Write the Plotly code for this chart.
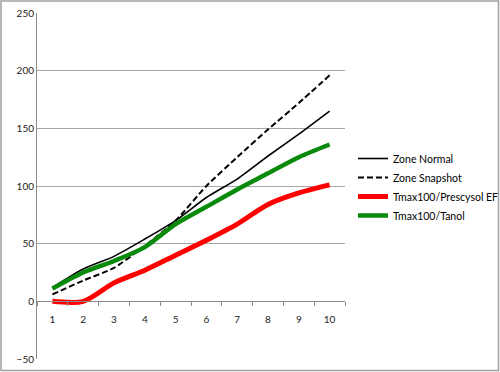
import plotly.graph_objects as go

categories = ["1", "2", "3", "4", "5", "6", "7", "8", "9", "10"]
zone_normal = [12, 28, 39, 54, 70, 90, 106, 126, 145, 165]
zone_snapshot = [6, 18, 29, 48, 70, 100, 125, 149, 172, 196]
prescysol = [0, 0, 16, 27, 40, 53, 67, 84, 94, 101]
tanol = [11, 25, 35, 47, 67, 82, 97, 111, 125, 136]
y_ticks = [-50, 0, 50, 100, 150, 200, 250]

FONT = "Lato"

fig = go.Figure()
fig.add_trace(go.Scatter(x=categories, y=zone_normal, name="Zone Normal", mode="lines",
                         line=dict(color="black", width=1.6, shape="spline", smoothing=0.6)))
fig.add_trace(go.Scatter(x=categories, y=zone_snapshot, name="Zone Snapshot", mode="lines",
                         line=dict(color="black", width=2, dash="6px,3px", shape="spline", smoothing=0.6)))
fig.add_trace(go.Scatter(x=categories, y=prescysol, name="Tmax100/Prescysol EF", mode="lines",
                         line=dict(color="#ff0000", width=5, shape="spline", smoothing=0.8)))
fig.add_trace(go.Scatter(x=categories, y=tanol, name="Tmax100/Tanol", mode="lines",
                         line=dict(color="#0a8a0a", width=4.5, shape="spline", smoothing=0.8)))

# plot area in pixels: left 37, right 345, top 13, bottom 359
L, R, T, B = 37, 345, 13, 359
W, H = R - L, B - T
zero_pos = (B - 301) / H

fig.update_layout(
    width=500, height=372,
    margin=dict(l=L, r=500 - R, t=T, b=372 - B, autoexpand=False),
    paper_bgcolor="white", plot_bgcolor="white",
    font=dict(family=FONT, size=10, color="black"),
    showlegend=True,
    legend=dict(x=(353 - L) / W, y=(B - 187) / H, xanchor="left", yanchor="middle",
                font=dict(family=FONT, size=10.5, color="black"),
                bgcolor="rgba(0,0,0,0)", tracegroupgap=0, itemwidth=30),
    xaxis=dict(type="category", range=[-0.5, 9.5], anchor="free", position=zero_pos,
               showline=True, linecolor="#8c8c8c", linewidth=1,
               ticks="outside", tickson="boundaries", ticklen=4, tickcolor="#8c8c8c",
               ticklabelstandoff=9,
               showgrid=False, zeroline=False,
               tickfont=dict(family=FONT, size=10, color="#222")),
    yaxis=dict(range=[-50, 250], tickvals=y_ticks, showgrid=True, gridcolor="#a6a6a6",
               gridwidth=1, showline=True, linecolor="#8c8c8c", linewidth=1,
               zeroline=False, ticks="", ticklen=0,
               tickfont=dict(family=FONT, size=10, color="#222")),
    shapes=[dict(type="rect", xref="paper", yref="paper",
                 x0=(1 - L) / W, x1=(498.5 - L) / W,
                 y0=(B - 370.5) / H, y1=(B - 1) / H,
                 line=dict(color="#a0a0a0", width=1.5), fillcolor="rgba(0,0,0,0)",
                 layer="below")],
)

fig.write_html("out.html", config={"displayModeBar": False},
               post_script="document.body.style.margin='0';document.body.style.overflow='hidden';")
